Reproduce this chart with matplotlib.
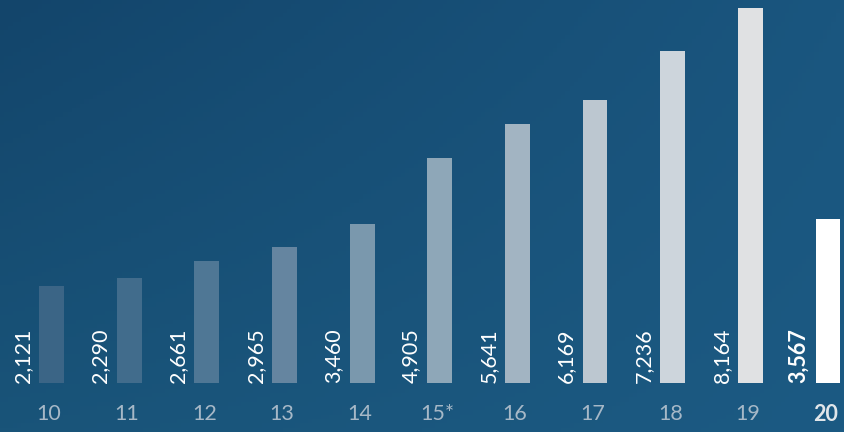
import numpy as np
import matplotlib
matplotlib.use("Agg")
import matplotlib.pyplot as plt
from matplotlib.colors import to_rgb

# yearly totals ('10 .. '20, the last one is year-to-date)
years = ['10', '11', '12', '13', '14', '15*', '16', '17', '18', '19', '20']
values = [2121, 2290, 2661, 2965, 3460, 4905, 5641, 6169, 7236, 8164, 3567]

bar_colors = ['#3b6586', '#416c8c', '#4f7795', '#6585a0', '#7a98ad', '#8ea7b8',
              '#a2b4c2', '#bcc7d0', '#cdd5dc', '#e0e1e3', '#ffffff']

plt.rcParams['font.family'] = ['Lato', 'DejaVu Sans']

fig = plt.figure(figsize=(8.44, 4.32), dpi=100)

# background: soft blue gradient, a bit darker at top-left
bg = fig.add_axes([0, 0, 1, 1])
tl, tr = np.array(to_rgb('#13456b')), np.array(to_rgb('#1a567f'))
bl, br = np.array(to_rgb('#195479')), np.array(to_rgb('#1c5a83'))
u = np.linspace(0, 1, 200)[None, :, None]
v = np.linspace(0, 1, 100)[:, None, None]
grad = (1 - v) * ((1 - u) * tl + u * tr) + v * ((1 - u) * bl + u * br)
bg.imshow(grad, aspect='auto', extent=[0, 1, 0, 1], origin='upper')
bg.set_axis_off()

ax = fig.add_axes([0, 0, 1, 1])
ax.patch.set_alpha(0)
x = np.arange(len(years))
width = 0.32
ax.bar(x, values, width=width, color=bar_colors, zorder=2)

last = len(years) - 1
for i, (xi, val) in enumerate(zip(x, values)):
    bold = i == last
    ax.text(xi - width / 2 - 0.08, 0, f'{val:,}', rotation=90,
            ha='right', va='bottom', fontsize=15.5,
            color='white', fontweight='bold' if bold else 'normal')
    ax.text(xi - 0.03, -680, years[i], ha='center', va='center', fontsize=15.5,
            color='#e1e6ea' if bold else '#a6b8c7',
            fontweight='bold' if bold else 'normal')

ax.set_xlim(-0.663, 10.206)
ax.set_ylim(-1067, 8339)
ax.set_axis_off()

fig.savefig('out.png', dpi=100)
